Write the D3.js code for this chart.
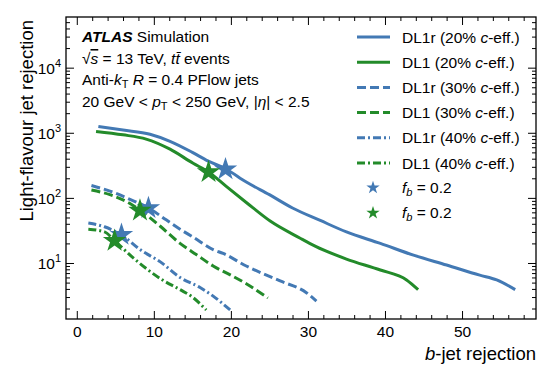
<!DOCTYPE html>
<meta charset="utf-8">
<script src="https://d3js.org/d3.v7.min.js"></script>
<style>
  body { margin: 0; background: #fff; }
  text { font-family: "Liberation Sans", Arial, Helvetica, sans-serif; fill: #000; }
  .tick line { stroke: #000; stroke-width: 1; }
  .domain { display: none; }
</style>
<div id="my_dataviz"></div>
<script>
// curve data: [b-jet rejection, light-flavour rejection]
const dl1r20 = [[2.8,1250],[6,1100],[9.5,950],[12.1,740],[15,500],[17,370],[19.3,280],[22,175],[25,112],[28,70],[31.6,45],[35,30],[39.4,20],[43.7,13.2],[48,9.3],[52.3,6.5],[54.5,5.5],[56.9,3.9]];
const dl120  = [[2.5,1050],[6,930],[9,800],[12.1,560],[15.1,340],[17.1,250],[19.4,150],[22,85],[25.1,44],[29,24],[31,18],[35,11.5],[39.4,7.8],[42.8,5.5],[44.3,3.9]];
const dl1r30 = [[1.9,155],[4.3,127],[6.9,95],[9.3,70],[11.6,46],[13.4,33],[15.1,25],[17.7,16],[19,14],[22,9],[26.4,5.3],[29.8,3.5],[31.1,2.6]];
const dl130  = [[1.9,132],[4.3,112],[6.9,82],[8.2,65],[10.8,37],[13.4,20],[15.5,13.5],[17.7,9],[20,6.5],[22,4.8],[24.8,2.9]];
const dl1r40 = [[1.5,41],[3.6,36],[5.8,27],[8.4,15.5],[10.8,10.5],[13.4,6],[16,4.2],[17.7,3.1],[19.9,1.9]];
const dl140  = [[1.5,33],[3.6,30],[4.9,22],[7.5,11.5],[11,5.6],[13.4,3.9],[15,3],[16.8,1.9]];

// f_b = 0.2 working points
const starsDL1r = [[19.3,275],[9.3,70],[5.8,27]];
const starsDL1  = [[17.1,250],[8.2,64],[4.9,22]];

const xTicks = [0,10,20,30,40,50];
const yTicks = [10,100,1000,10000];
const yExps  = [1,2,3,4];

const blue = "#4379b4", green = "#238b2a";

const margin = {top: 17, right: 18, bottom: 57, left: 66},
    width = 554 - margin.left - margin.right,
    height = 376 - margin.top - margin.bottom;

const svg = d3.select("#my_dataviz")
  .append("svg")
    .attr("width", 554)
    .attr("height", 376)
  .append("g")
    .attr("transform", `translate(${margin.left},${margin.top})`);

const x = d3.scaleLinear().domain([-1.4, 59.6]).range([0, width]);
const y = d3.scaleLog().domain([1.38, 60000]).range([height, 0]);

svg.append("defs").append("clipPath").attr("id", "clip")
  .append("rect").attr("width", width).attr("height", height);

// minor ticks
const xMinor = d3.range(0, 60, 2).filter(d => d % 10 != 0);
const yMinor = [];
[1,10,100,1000,10000].forEach(dec => { for (let k = 2; k <= 9; k++) if (dec*k > 1.38 && dec*k < 60000) yMinor.push(dec*k); });

svg.append("g").attr("transform", `translate(0,${height})`)
  .call(d3.axisBottom(x).tickValues(xTicks).tickSize(-8).tickPadding(7).tickFormat(d3.format("d")))
  .call(g => g.selectAll("text").attr("font-size", 15.5));
svg.append("g").attr("transform", `translate(0,${height})`)
  .call(d3.axisBottom(x).tickValues(xMinor).tickSize(-4).tickFormat(""));
svg.append("g")
  .call(d3.axisTop(x).tickValues(xTicks).tickSize(-8).tickFormat(""));
svg.append("g")
  .call(d3.axisTop(x).tickValues(xMinor).tickSize(-4).tickFormat(""));

svg.append("g")
  .call(d3.axisLeft(y).tickValues(yTicks).tickSize(-8).tickFormat(""));
svg.append("g")
  .call(d3.axisLeft(y).tickValues(yMinor).tickSize(-4).tickFormat(""));
svg.append("g").attr("transform", `translate(${width},0)`)
  .call(d3.axisRight(y).tickValues(yTicks).tickSize(-8).tickFormat(""));
svg.append("g").attr("transform", `translate(${width},0)`)
  .call(d3.axisRight(y).tickValues(yMinor).tickSize(-4).tickFormat(""));

// y tick labels 10^n
const ylab = svg.append("g").selectAll("text")
  .data(yTicks)
  .join("text")
    .attr("x", -5)
    .attr("y", d => y(d) + 6)
    .attr("text-anchor", "end")
    .attr("font-size", 15.5);
ylab.append("tspan").text("10");
ylab.append("tspan").attr("dy", -7).attr("font-size", 11).text((d, i) => yExps[i]);

// frame
svg.append("rect")
  .attr("width", width).attr("height", height)
  .attr("fill", "none").attr("stroke", "#000").attr("stroke-width", 1.3);

// axis labels
const xl = svg.append("text")
  .attr("x", width).attr("y", height + 41)
  .attr("text-anchor", "end").attr("font-size", 18.5);
xl.append("tspan").attr("font-style", "italic").text("b");
xl.append("tspan").text("-jet rejection");

svg.append("text")
  .attr("transform", "rotate(-90)")
  .attr("x", -3).attr("y", -33)
  .attr("text-anchor", "end").attr("font-size", 18.5)
  .text("Light-flavour jet rejection");

// curves
const line = d3.line()
  .x(d => x(d[0]))
  .y(d => y(d[1]))
  .curve(d3.curveMonotoneX);

const series = [
  {data: dl1r30, color: blue,  dash: "9,4"},
  {data: dl130,  color: green, dash: "9,4"},
  {data: dl1r40, color: blue,  dash: "8,3,2,3"},
  {data: dl140,  color: green, dash: "8,3,2,3"},
  {data: dl1r20, color: blue,  dash: null},
  {data: dl120,  color: green, dash: null}
];

const plot = svg.append("g").attr("clip-path", "url(#clip)");
plot.selectAll(".curve")
  .data(series)
  .join("path")
    .attr("class", "curve")
    .attr("d", d => line(d.data))
    .attr("fill", "none")
    .attr("stroke", d => d.color)
    .attr("stroke-width", 3)
    .attr("stroke-dasharray", d => d.dash);

const star = d3.symbol().type(d3.symbolStar);
plot.selectAll(".sb")
  .data(starsDL1r)
  .join("path")
    .attr("class", "sb")
    .attr("transform", d => `translate(${x(d[0])},${y(d[1])})`)
    .attr("d", star.size(170)())
    .attr("fill", blue);
plot.selectAll(".sg")
  .data(starsDL1)
  .join("path")
    .attr("class", "sg")
    .attr("transform", d => `translate(${x(d[0])},${y(d[1])})`)
    .attr("d", star.size(170)())
    .attr("fill", green);

// ATLAS label
const fs = 15.5, fsub = 11;
const info = svg.append("g").attr("transform", "translate(16,0)");
const t1 = info.append("text").attr("y", 25).attr("font-size", fs);
t1.append("tspan").attr("font-weight", "bold").attr("font-style", "italic").text("ATLAS");
t1.append("tspan").text(" Simulation");
const t2 = info.append("text").attr("y", 47).attr("font-size", fs);
t2.append("tspan").text("\u221A");
t2.append("tspan").attr("font-style", "italic").attr("text-decoration", "overline").text("s");
t2.append("tspan").text(" = 13 TeV, ");
t2.append("tspan").attr("font-style", "italic").text("tt\u0304");
t2.append("tspan").text(" events");
const t3 = info.append("text").attr("y", 68).attr("font-size", fs);
t3.append("tspan").text("Anti-");
t3.append("tspan").attr("font-style", "italic").text("k");
t3.append("tspan").attr("font-size", fsub).attr("dy", 3).text("T");
t3.append("tspan").attr("dy", -3).attr("font-style", "italic").text(" R");
t3.append("tspan").text(" = 0.4 PFlow jets");
const t4 = info.append("text").attr("y", 90).attr("font-size", fs);
t4.append("tspan").text("20 GeV < ");
t4.append("tspan").attr("font-style", "italic").text("p");
t4.append("tspan").attr("font-size", fsub).attr("dy", 3).text("T");
t4.append("tspan").attr("dy", -3).text(" < 250 GeV, |");
t4.append("tspan").attr("font-style", "italic").text("\u03B7");
t4.append("tspan").text("| < 2.5");

// legend
const legendNames = ["DL1r (20% ", "DL1 (20% ", "DL1r (30% ", "DL1 (30% ", "DL1r (40% ", "DL1 (40% "];
const legendOrder = [4, 5, 0, 1, 2, 3];
const lg = svg.append("g").attr("transform", "translate(291,20)");
legendNames.forEach((name, i) => {
  const s = series[legendOrder[i]];
  const row = lg.append("g").attr("transform", `translate(0,${i*25.2})`);
  row.append("line").attr("x1", 0).attr("x2", 33).attr("y1", 0).attr("y2", 0)
    .attr("stroke", s.color).attr("stroke-width", 3).attr("stroke-dasharray", s.dash);
  const tx = row.append("text").attr("x", 45).attr("y", 5.5).attr("font-size", fs);
  tx.append("tspan").text(name);
  tx.append("tspan").attr("font-style", "italic").text("c");
  tx.append("tspan").text("-eff.)");
});
[blue, green].forEach((c, i) => {
  const row = lg.append("g").attr("transform", `translate(0,${(6+i)*25.2 - 0.5})`);
  row.append("path").attr("transform", "translate(16,0)").attr("d", star.size(55)()).attr("fill", c);
  const tx = row.append("text").attr("x", 45).attr("y", 5.5).attr("font-size", fs);
  tx.append("tspan").attr("font-style", "italic").text("f");
  tx.append("tspan").attr("font-style", "italic").attr("font-size", fsub).attr("dy", 3).text("b");
  tx.append("tspan").attr("dy", -3).text(" = 0.2");
});
</script>
